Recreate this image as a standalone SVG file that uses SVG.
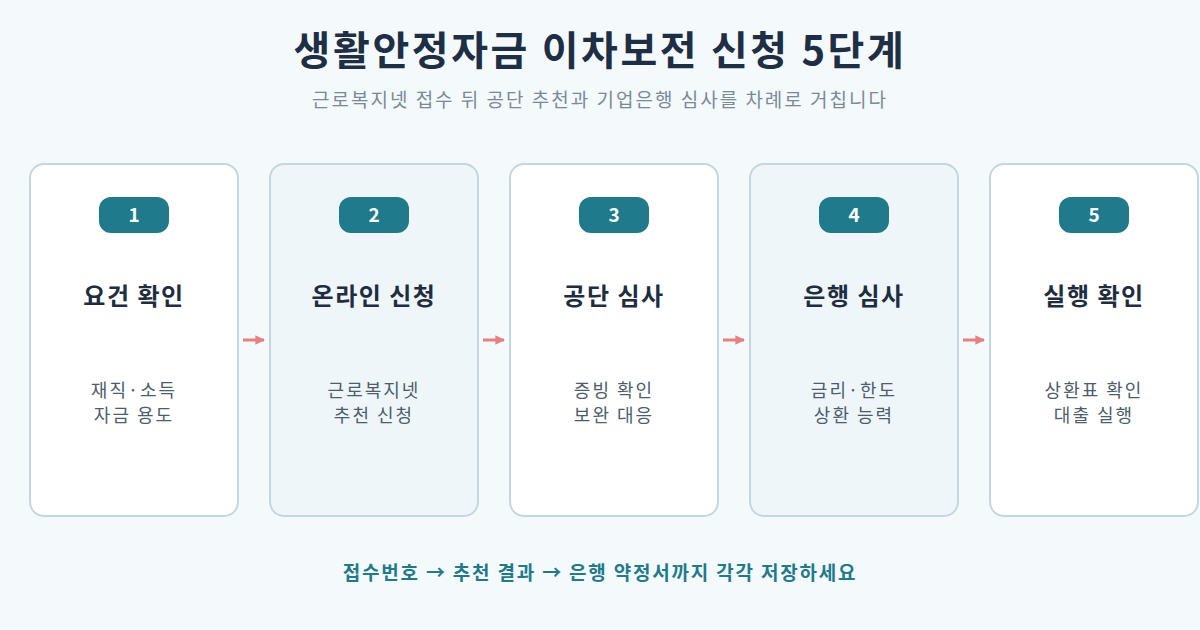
<svg xmlns="http://www.w3.org/2000/svg" width="1200" height="630" viewBox="0 0 1200 630">
<style>
text{font-family:"Noto Sans CJK KR","Noto Sans",sans-serif}
.card{stroke:#c3d7df;stroke-width:2}
.w{fill:#ffffff}
.t{fill:#eef6f9}
.badge{fill:#1f7a8c}
.num{fill:#ffffff;font-size:19px;font-weight:700;text-anchor:middle}
.ttl{fill:#1e2d40;font-size:24px;font-weight:700;text-anchor:middle;letter-spacing:1.5px}
.desc{fill:#4d5d6c;font-size:18px;text-anchor:middle;letter-spacing:2px}
.conn{stroke:#e97f7f;stroke-width:3;fill:none}
</style>
<defs>
<marker id="ah" viewBox="0 0 10 10" refX="9" refY="5" markerWidth="3.2" markerHeight="3.2" orient="auto" markerUnits="strokeWidth">
<path d="M0,0 L10,5 L0,10 z" fill="#e97f7f"/>
</marker>
</defs>
<rect width="1200" height="630" fill="#f4f9fc"/>
<text x="600" y="65" text-anchor="middle" style="font-size:40px;font-weight:700;fill:#1e2f45;letter-spacing:2.6px">생활안정자금 이차보전 신청 5단계</text>
<text x="600" y="107" text-anchor="middle" style="font-size:19px;fill:#7b8a98;letter-spacing:2px">근로복지넷 접수 뒤 공단 추천과 기업은행 심사를 차례로 거칩니다</text>
<g id="connectors">
<line class="conn" x1="243" y1="340" x2="264" y2="340" marker-end="url(#ah)"/>
<line class="conn" x1="483" y1="340" x2="504" y2="340" marker-end="url(#ah)"/>
<line class="conn" x1="723" y1="340" x2="744" y2="340" marker-end="url(#ah)"/>
<line class="conn" x1="963" y1="340" x2="984" y2="340" marker-end="url(#ah)"/>
</g>
<g id="step1">
<rect class="card w" x="30" y="164" width="208" height="352" rx="14"/>
<rect class="badge" x="99" y="197" width="70" height="36" rx="12"/>
<text class="num" x="134" y="222">1</text>
<text class="ttl" x="134" y="305">요건 확인</text>
<text class="desc" x="134" y="397">재직·소득</text>
<text class="desc" x="134" y="422">자금 용도</text>
</g>
<g id="step2">
<rect class="card t" x="270" y="164" width="208" height="352" rx="14"/>
<rect class="badge" x="339" y="197" width="70" height="36" rx="12"/>
<text class="num" x="374" y="222">2</text>
<text class="ttl" x="374" y="305">온라인 신청</text>
<text class="desc" x="374" y="397">근로복지넷</text>
<text class="desc" x="374" y="422">추천 신청</text>
</g>
<g id="step3">
<rect class="card w" x="510" y="164" width="208" height="352" rx="14"/>
<rect class="badge" x="579" y="197" width="70" height="36" rx="12"/>
<text class="num" x="614" y="222">3</text>
<text class="ttl" x="614" y="305">공단 심사</text>
<text class="desc" x="614" y="397">증빙 확인</text>
<text class="desc" x="614" y="422">보완 대응</text>
</g>
<g id="step4">
<rect class="card t" x="750" y="164" width="208" height="352" rx="14"/>
<rect class="badge" x="819" y="197" width="70" height="36" rx="12"/>
<text class="num" x="854" y="222">4</text>
<text class="ttl" x="854" y="305">은행 심사</text>
<text class="desc" x="854" y="397">금리·한도</text>
<text class="desc" x="854" y="422">상환 능력</text>
</g>
<g id="step5">
<rect class="card w" x="990" y="164" width="208" height="352" rx="14"/>
<rect class="badge" x="1059" y="197" width="70" height="36" rx="12"/>
<text class="num" x="1094" y="222">5</text>
<text class="ttl" x="1094" y="305">실행 확인</text>
<text class="desc" x="1094" y="397">상환표 확인</text>
<text class="desc" x="1094" y="422">대출 실행</text>
</g>
<text x="600" y="580" text-anchor="middle" style="font-size:19px;font-weight:700;fill:#1f7a8c;letter-spacing:1.8px">접수번호 → 추천 결과 → 은행 약정서까지 각각 저장하세요</text>
</svg>
